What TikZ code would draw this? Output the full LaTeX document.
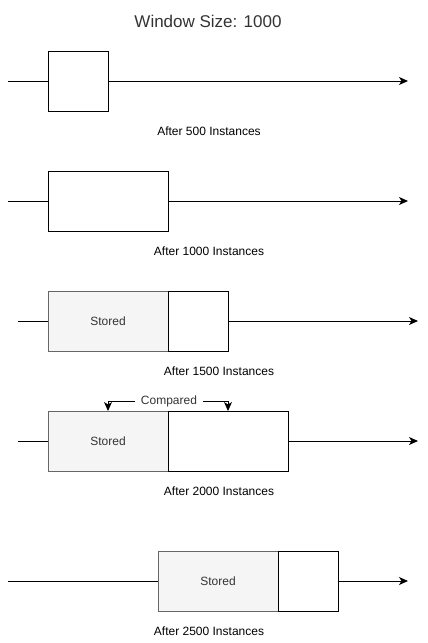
\documentclass[tikz,border=0pt]{standalone}
\usepackage{fontspec}
\setmainfont{Liberation Sans}
\usepackage{xcolor}
\usetikzlibrary{arrows.meta,positioning}

\definecolor{storefill}{HTML}{F5F5F5}
\definecolor{storeline}{HTML}{666666}
\definecolor{txt}{HTML}{333333}

\tikzset{
    win/.style={draw, line width=1pt, fill=white, inner sep=0pt, outer sep=0pt,
        minimum height=60pt},
    stored/.style={win, draw=storeline, fill=storefill, text=txt,
        font=\fontsize{12}{14}\selectfont},
    caption/.style={font=\fontsize{12}{14}\selectfont, text=black},
    flow/.style={line width=1pt, -{Stealth[length=9pt,width=8pt,inset=2.5pt]}},
}

\begin{document}
\begin{tikzpicture} [ x=1pt, y=-1pt, ]
    \useasboundingbox (0,0) rectangle (428,643);

    \node[font=\fontsize{17}{20}\selectfont, text=txt] (title) at (208,21) {Window Size: 1000};

    % after 500
    \coordinate (a1) at (8,81);
    \coordinate (b1) at (408,81);
    \node[win, minimum width=60pt] (w1) at (78,81) {};
    \draw[line width=1pt] (a1) -- (w1.west);
    \draw[flow] (w1.east) -- (b1);
    \node[caption] (c1) at (209,131) {After 500 Instances};

    % after 1000
    \coordinate (a2) at (8,201);
    \coordinate (b2) at (408,201);
    \node[win, minimum width=120pt] (w2) at (108,201) {};
    \draw[line width=1pt] (a2) -- (w2.west);
    \draw[flow] (w2.east) -- (b2);
    \node[caption] (c2) at (209,251) {After 1000 Instances};

    % after 1500
    \coordinate (a3) at (18,321);
    \coordinate (b3) at (418,321);
    \node[stored, minimum width=120pt] (s3) at (108,321) {Stored};
    \node[win, minimum width=60pt, right=0pt of s3] (w3) {};
    \draw[line width=1pt] (a3) -- (s3.west);
    \draw[flow] (w3.east) -- (b3);
    \node[caption] (c3) at (219,371) {After 1500 Instances};

    % after 2000
    \coordinate (a4) at (18,441);
    \coordinate (b4) at (418,441);
    \node[stored, minimum width=120pt] (s4) at (108,441) {Stored};
    \node[win, minimum width=120pt, right=0pt of s4] (w4) {};
    \draw[line width=1pt] (a4) -- (s4.west);
    \draw[flow] (w4.east) -- (b4);
    \node[caption] (c4) at (219,491) {After 2000 Instances};
    \node[caption, text=txt, inner xsep=6pt] (cmp) at (169,401) {Compared};
    \draw[flow] (cmp.west) -| (s4.north);
    \draw[flow] (cmp.east) -| (w4.north);

    % after 2500
    \coordinate (a5) at (8,581);
    \coordinate (b5) at (408,581);
    \node[stored, minimum width=120pt] (s5) at (218,581) {Stored};
    \node[win, minimum width=60pt, right=0pt of s5] (w5) {};
    \draw[line width=1pt] (a5) -- (s5.west);
    \draw[flow] (w5.east) -- (b5);
    \node[caption] (c5) at (209,631) {After 2500 Instances};

\end{tikzpicture}
\end{document}
